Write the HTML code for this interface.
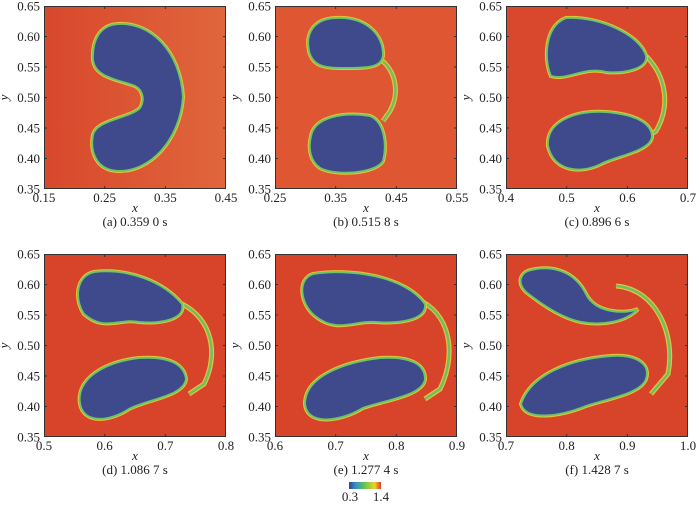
<!DOCTYPE html>
<html><head><meta charset="utf-8"><style>
body{margin:0;background:#fff}
svg text{font-family:"Liberation Serif",serif;font-size:13px;fill:#222}
</style></head><body>
<svg id="s" width="700" height="504" xmlns="http://www.w3.org/2000/svg">
<defs>
<linearGradient id="cb" x1="0" x2="1"><stop offset="0" stop-color="#3b3f8f"/><stop offset=".2" stop-color="#2f8fd0"/><stop offset=".45" stop-color="#5cbf5a"/><stop offset=".65" stop-color="#a6cf3a"/><stop offset=".8" stop-color="#f0d030"/><stop offset="1" stop-color="#d84028"/></linearGradient>
<linearGradient id="bga" x1="0" x2="1"><stop offset="0" stop-color="#d8482c"/><stop offset="1" stop-color="#e0663c"/></linearGradient>
</defs>
</svg>
<script>
const s=document.getElementById('s');const NS='http://www.w3.org/2000/svg';
function el(t,a,txt){const e=document.createElementNS(NS,t);for(const k in a)e.setAttribute(k,a[k]);if(txt!==undefined)e.textContent=txt;s.appendChild(e);return e;}
const P=[
{x:44,y:6,xt:['0.15','0.25','0.35','0.45'],cap:'(a) 0.359 0 s',bg:'url(#bga)',
 sh:['M74 18 C106 16 136 44 139 91 C136 134 106 166 74 165 C51 164 46 144 49 129 C52 114 86 112 96 102 C101 94 99 84 91 80 C76 74 51 72 49 54 C48 34 56 19 74 18 Z']},
{x:275,y:6,xt:['0.25','0.35','0.45','0.55'],cap:'(b) 0.515 8 s',bg:'#de5632',
 sh:['M60 12 C90 10 108 28 108 48 C108 62 92 62 72 62 C52 62 38 62 34 45 C30 26 40 13 60 12 Z','M36 130 C40 110 70 106 95 110 C110 116 112 140 108 155 C100 168 60 170 45 162 C35 155 33 142 36 130 Z'],
 arc:'M100 50 C120 60 126 85 115 105 L108 115'},
{x:506,y:6,xt:['0.4','0.5','0.6','0.7'],cap:'(c) 0.896 6 s',bg:'#d9482c',
 sh:['M60 12 C95 10 135 30 140 50 C142 62 120 68 100 66 C80 60 60 75 45 70 C38 55 38 20 60 12 Z','M42 140 C40 115 70 104 100 106 C125 108 145 115 146 130 C146 145 110 150 95 158 C75 168 48 166 42 140 Z'],
 arc:'M140 50 C160 70 165 100 150 125 L140 132'},
{x:44,y:254,xt:['0.5','0.6','0.7','0.8'],cap:'(d) 1.086 7 s',bg:'#d8442a',
 sh:['M50 18 C85 14 120 28 138 50 C142 66 115 70 95 68 C75 64 60 78 40 60 C30 45 32 22 50 18 Z','M36 150 C32 125 60 108 95 104 C125 102 140 110 142 125 C140 142 105 145 85 155 C65 168 40 170 36 150 Z'],
 arc:'M138 50 C168 65 175 100 160 130 L145 140'},
{x:275,y:254,xt:['0.6','0.7','0.8','0.9'],cap:'(e) 1.277 4 s',bg:'#d8442a',
 sh:['M38 20 C75 14 130 22 150 50 C152 66 125 70 100 68 C80 66 62 80 40 62 C25 50 22 25 38 20 Z','M30 150 C30 122 70 108 105 104 C135 102 150 110 150 125 C148 142 110 146 88 154 C65 168 32 172 30 150 Z'],
 arc:'M148 48 C178 65 180 105 165 135 L150 145'},
{x:506,y:254,xt:['0.7','0.8','0.9','1.0'],cap:'(f) 1.428 7 s',bg:'#d8442a',
 sh:['M25 16 C50 10 70 20 80 40 C90 60 120 60 132 55 C120 68 95 72 75 68 C55 64 35 50 20 38 C10 28 15 18 25 16 Z','M15 150 C25 120 65 105 105 102 C130 100 145 110 140 125 C135 140 100 145 80 152 C55 162 20 168 15 150 Z'],
 arc:'M110 32 C150 35 170 80 162 120 L145 140'}
];
const W=182,H=183;
P.forEach(p=>{
 el('rect',{x:p.x,y:p.y,width:W,height:H,fill:p.bg});
 const g=document.createElementNS(NS,'g');g.setAttribute('transform',`translate(${p.x},${p.y})`);s.appendChild(g);
 function ge(t,a){const e=document.createElementNS(NS,t);for(const k in a)e.setAttribute(k,a[k]);g.appendChild(e);}
 if(p.arc){ge('path',{d:p.arc,fill:'none',stroke:'#e8c040',"stroke-width":5});ge('path',{d:p.arc,fill:'none',stroke:'#6cc060',"stroke-width":2.5});}
 p.sh.forEach(d=>{ge('path',{d:d,fill:'#3f4a8c',stroke:'#e4c43c',"stroke-width":4});ge('path',{d:d,fill:'#3f4a8c',stroke:'#6cc464',"stroke-width":2});});
 el('rect',{x:p.x+.5,y:p.y+.5,width:W-1,height:H-1,fill:'none',stroke:'#333','stroke-width':1});
 ['0.65','0.60','0.55','0.50','0.45','0.40','0.35'].forEach((t,i)=>{
  const yy=p.y+i*H/6;
  el('text',{x:p.x-4,y:yy+4.5,'text-anchor':'end'},t);
  if(i>0&&i<6){el('line',{x1:p.x,x2:p.x+3,y1:yy,y2:yy,stroke:'#333'});el('line',{x1:p.x+W-3,x2:p.x+W,y1:yy,y2:yy,stroke:'#333'});}
 });
 p.xt.forEach((t,i)=>{const xx=p.x+i*W/3;
  el('text',{x:xx,y:p.y+H+13,'text-anchor':'middle'},t);
  if(i>0&&i<3){el('line',{x1:xx,x2:xx,y1:p.y+H,y2:p.y+H-3,stroke:'#333'});el('line',{x1:xx,x2:xx,y1:p.y,y2:p.y+3,stroke:'#333'});}
 });
 el('text',{x:p.x+W/2,y:p.y+H+23,'text-anchor':'middle','font-style':'italic'},'x');
 const ty=p.y+H/2;el('text',{x:p.x-36,y:ty,'text-anchor':'middle','font-style':'italic',transform:`rotate(-90 ${p.x-36} ${ty})`},'y');
 el('text',{x:p.x+W/2,y:p.y+H+37,'text-anchor':'middle'},p.cap);
});
el('rect',{x:349,y:482,width:32,height:7,fill:'url(#cb)'});
el('text',{x:350,y:501,'text-anchor':'middle'},'0.3');
el('text',{x:381,y:501,'text-anchor':'middle'},'1.4');
</script>
</body></html>
